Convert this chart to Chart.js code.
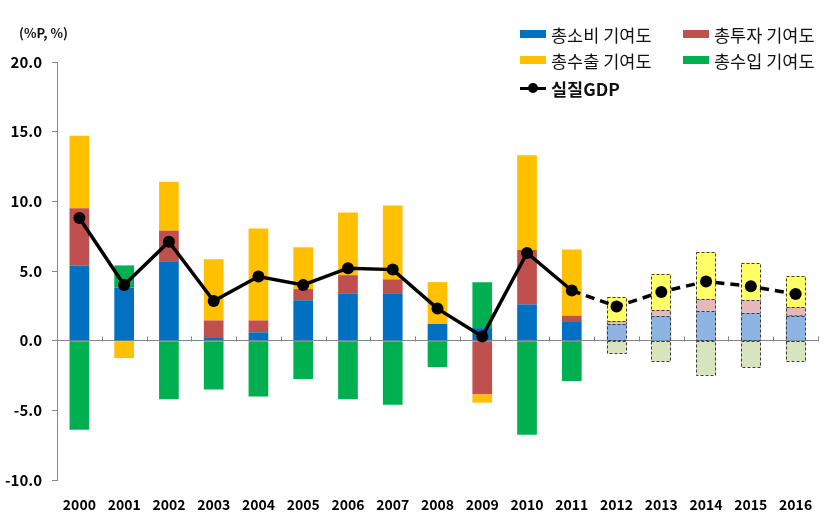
<!DOCTYPE html>
<html>
<head>
<meta charset="utf-8">
<script src="https://cdn.jsdelivr.net/npm/chart.js@4.4.1/dist/chart.umd.min.js"></script>
<style>
  html, body { margin: 0; padding: 0; background: #fff; }
  #wrap { position: relative; width: 832px; height: 530px; }
  #unit { position: absolute; left: 19px; top: 23px; font: bold 13px "Noto Sans CJK KR", "Noto Sans", sans-serif; color: #111; }
  #legend { position: absolute; left: 0; top: 0; width: 832px; height: 100px; pointer-events: none; }
  .li { position: absolute; display: flex; align-items: center; font: 17.5px "Noto Sans CJK KR", sans-serif; color: #111; white-space: nowrap; }
  .sw { width: 26px; height: 8px; margin-right: 5px; }
  .ln { position: relative; width: 26px; height: 3px; background: #000; margin-right: 5px; }
  .ln::after { content: ""; position: absolute; left: 8px; top: -4px; width: 10px; height: 10px; border-radius: 50%; background: #000; }
</style>
</head>
<body>
<div id="wrap">
  <canvas id="c" width="832" height="530"></canvas>
  <div id="unit">(%P, %)</div>
  <div id="legend"></div>
</div>
<script>
const years = ['2000','2001','2002','2003','2004','2005','2006','2007','2008','2009','2010','2011','2012','2013','2014','2015','2016'];
const consumption = [5.4, 3.8, 5.7, 0.25, 0.6, 2.9, 3.4, 3.4, 1.2, 0.9, 2.6, 1.4, 1.2, 1.8, 2.1, 2.0, 1.8];
const investment  = [4.1, 0, 2.2, 1.2, 0.85, 0.8, 1.3, 1.0, 0, -3.85, 3.9, 0.4, 0.2, 0.4, 0.9, 0.9, 0.6];
const exportsC    = [5.2, -1.25, 3.5, 4.4, 6.6, 3.0, 4.5, 5.3, 3.0, -0.6, 6.8, 4.75, 1.75, 2.6, 3.35, 2.7, 2.25];
const importsC    = [-6.4, 1.6, -4.2, -3.5, -4.0, -2.75, -4.2, -4.6, -1.9, 3.3, -6.75, -2.9, -0.9, -1.5, -2.45, -1.9, -1.45];
const realGDP     = [8.8, 4.0, 7.1, 2.85, 4.6, 4.0, 5.2, 5.1, 2.3, 0.3, 6.3, 3.6, 2.45, 3.5, 4.25, 3.9, 3.35];
const seriesNames = ['총소비 기여도', '총투자 기여도', '총수출 기여도', '총수입 기여도', '실질GDP'];
const yTicks = [20, 15, 10, 5, 0, -5, -10];
const forecastStart = 12;

const darkColors  = ['#0070C0', '#C0504D', '#FFC000', '#00B050'];
const lightColors = ['#8DB4E2', '#E6B9B8', '#FFFF66', '#D7E4BD'];

function barDs(i, data) {
  return {
    type: 'bar',
    label: seriesNames[i],
    data: data,
    order: 1,
    backgroundColor: ctx => (ctx.dataIndex !== undefined && ctx.dataIndex >= forecastStart) ? lightColors[i] : darkColors[i],
    borderWidth: 0,
    categoryPercentage: 1,
    barPercentage: 0.44,
    stack: 's'
  };
}

// dashed outlines on forecast bars, using the bar elements laid out by Chart.js
const dashedBars = {
  id: 'dashedBars',
  afterDatasetDraw(chart, args) {
    const meta = args.meta;
    if (meta.type !== 'bar') return;
    const ctx = chart.ctx;
    ctx.save();
    ctx.setLineDash([3, 2]);
    ctx.strokeStyle = '#3a3a3a';
    ctx.lineWidth = 1;
    meta.data.forEach((el, idx) => {
      if (idx < forecastStart) return;
      const p = el.getProps(['x', 'y', 'base', 'width'], true);
      const h = Math.abs(p.base - p.y);
      if (h < 0.5) return;
      const top = Math.min(p.y, p.base);
      ctx.strokeRect(Math.round(p.x - p.width / 2) + 0.5, Math.round(top) + 0.5, Math.round(p.width) - 1, Math.round(h));
    });
    ctx.restore();
  }
};

// small category tick marks standing on the zero line
const zeroTicks = {
  id: 'zeroTicks',
  beforeDatasetsDraw(chart) {
    const xs = chart.scales.x, ys = chart.scales.y, ctx = chart.ctx;
    const y0 = Math.round(ys.getPixelForValue(0)) + 0.5;
    ctx.save();
    ctx.strokeStyle = '#868686';
    ctx.lineWidth = 1;
    ctx.beginPath();
    for (let i = 1; i <= years.length; i++) {
      const xp = i < years.length
        ? (xs.getPixelForValue(i - 1) + xs.getPixelForValue(i)) / 2
        : xs.right - 0.5;
      const xr = Math.round(xp) + 0.5;
      ctx.moveTo(xr, y0 - 5);
      ctx.lineTo(xr, y0);
    }
    ctx.stroke();
    ctx.restore();
  }
};

const chart = new Chart(document.getElementById('c'), {
  data: {
    labels: years,
    datasets: [
      barDs(0, consumption),
      barDs(1, investment),
      barDs(2, exportsC),
      barDs(3, importsC),
      {
        type: 'line',
        label: seriesNames[4],
        data: realGDP,
        order: 0,
        borderColor: '#000',
        backgroundColor: '#000',
        borderWidth: 3.5,
        pointRadius: 6,
        pointHoverRadius: 6,
        pointBackgroundColor: '#000',
        pointBorderWidth: 0,
        tension: 0,
        segment: {
          borderDash: ctx => ctx.p0DataIndex >= forecastStart - 1 ? [9, 6] : undefined
        }
      }
    ]
  },
  options: {
    responsive: false,
    animation: false,
    devicePixelRatio: 1,
    layout: { padding: { top: 62, right: 14, left: 0, bottom: 0 } },
    plugins: { legend: { display: false }, tooltip: { enabled: false } },
    scales: {
      x: {
        type: 'category',
        stacked: true,
        offset: true,
        grid: { display: false },
        border: { display: false },
        ticks: {
          color: '#000',
          padding: 8,
          maxRotation: 0,
          autoSkip: false,
          font: { family: '"Noto Sans CJK KR", sans-serif', size: 14, weight: 'bold' }
        },
        afterFit: s => { s.height = 50; }
      },
      y: {
        stacked: true,
        min: -10,
        max: 20,
        afterBuildTicks: s => { s.ticks = yTicks.map(v => ({ value: v })); },
        grid: {
          color: ctx => (ctx.tick && ctx.tick.value === 0) ? '#868686' : 'rgba(0,0,0,0)',
          tickColor: '#868686',
          tickLength: 5,
          lineWidth: 1
        },
        border: { display: true, color: '#868686', width: 1 },
        ticks: {
          color: '#000',
          padding: 10,
          font: { family: '"Noto Sans CJK KR", sans-serif', size: 15, weight: 'bold' },
          callback: v => Number(v).toFixed(1)
        },
        afterFit: s => { s.width = 57; }
      }
    }
  },
  plugins: [zeroTicks, dashedBars]
});

// legend built from the series names / colours
const legend = document.getElementById('legend');
const legendPos = [[520, 34], [683, 34], [520, 60], [683, 60], [520, 88]];
seriesNames.forEach((name, i) => {
  const d = document.createElement('div');
  d.className = 'li';
  d.style.left = legendPos[i][0] + 'px';
  d.style.top = (legendPos[i][1] - 13) + 'px';
  d.style.height = '26px';
  const m = document.createElement('span');
  if (i < 4) { m.className = 'sw'; m.style.background = darkColors[i]; }
  else { m.className = 'ln'; }
  d.appendChild(m);
  const t = document.createElement('span');
  t.textContent = name;
  if (i === 4) t.style.fontWeight = 'bold';
  d.appendChild(t);
  legend.appendChild(d);
});
</script>
</body>
</html>
